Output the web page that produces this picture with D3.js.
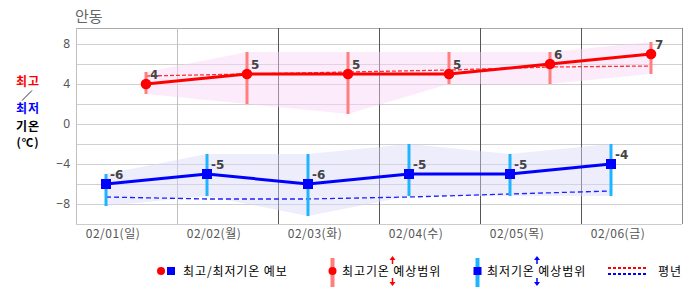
<!DOCTYPE html>
<html><head><meta charset="utf-8">
<script src="https://cdn.jsdelivr.net/npm/d3@7"></script>
<style>
body{margin:0;background:#fff;}
svg{display:block;font-family:"Noto Sans CJK KR","Noto Sans",sans-serif;}
</style></head>
<body><svg id="c" width="686" height="295"></svg>
<script>
const title = "안동";
const dates = ["02/01(일)","02/02(월)","02/03(화)","02/04(수)","02/05(목)","02/06(금)"];
const maxTemp = [4,5,5,5,6,7];
const minTemp = [-6,-5,-6,-5,-5,-4];
const maxRangeHigh = [5.2,7.2,7.2,7.2,7.2,8.2];
const maxRangeLow = [3,2,1,4,4,5];
const minRangeHigh = [-5,-3,-3,-2,-3,-2];
const minRangeLow = [-8.2,-7.2,-9.2,-7.2,-7.2,-7.2];
const normalMax = [4.8,5.0,5.2,5.4,5.7,5.8];
const normalMin = [-7.3,-7.5,-7.5,-7.3,-7.0,-6.7];
const yTicks = [8,4,0,-4,-8];
const yGrid = [8,6,4,2,0,-2,-4,-6,-8];

const svg = d3.select("#c");
const L=76, R=682, T=28, B=224;
const x = d3.scaleBand().domain(dates).range([L,R]).padding(0);
const y = d3.scaleLinear().domain([-10,9.6]).range([B,T]);
const xMax = d => x(d)+70, xMin = d => x(d)+30, xLab = d => x(d)+37;

// title
svg.append("text").attr("x",75).attr("y",22).attr("font-size",15).attr("fill","#666").text(title);

// grid
svg.selectAll(".hg").data(yGrid).join("line").attr("x1",L).attr("x2",R)
  .attr("y1",d=>y(d)+0.5).attr("y2",d=>y(d)+0.5).attr("stroke","#d0d0d0");
svg.append("line").attr("x1",L).attr("x2",R).attr("y1",T+0.5).attr("y2",T+0.5).attr("stroke","#aaa");
svg.append("line").attr("x1",L).attr("x2",R).attr("y1",B+0.5).attr("y2",B+0.5).attr("stroke","#ccc");
dates.forEach((d,i)=>{
  const xx = Math.round(x(d))+0.5;
  svg.append("line").attr("x1",xx).attr("x2",xx).attr("y1",T).attr("y2",B)
    .attr("stroke", i<2 ? "#c0c0c0" : "#555");
});
svg.append("line").attr("x1",R+0.5).attr("x2",R+0.5).attr("y1",T).attr("y2",B).attr("stroke","#888");

// y axis
const ya = svg.append("g").attr("transform",`translate(${L-6},0)`)
  .call(d3.axisLeft(y).tickValues(yTicks).tickSize(0).tickPadding(0));
ya.select(".domain").remove();
ya.selectAll("text").attr("font-size",12).attr("fill","#555").attr("font-family","'Noto Sans','DejaVu Sans',sans-serif");

// x labels
svg.selectAll(".xl").data(dates).join("text").attr("x",xLab).attr("y",238)
  .attr("text-anchor","middle").attr("font-size",12).attr("fill","#555").attr("letter-spacing","0.5").text(d=>d);

// left label
const ll = svg.append("g").attr("font-size",12).attr("font-weight","bold").attr("text-anchor","middle").attr("letter-spacing","1");
ll.append("text").attr("x",28).attr("y",86).attr("fill","#ff0000").text("최고");
ll.append("line").attr("x1",22).attr("y1",100.5).attr("x2",32).attr("y2",90.5).attr("stroke","#000").attr("stroke-width",0.8);
ll.append("text").attr("x",28).attr("y",113).attr("fill","#0000ff").text("최저");
ll.append("text").attr("x",28).attr("y",131).attr("fill","#000").text("기온");
ll.append("text").attr("x",28).attr("y",147).attr("fill","#000").attr("font-size",11.5).text("(℃)");

const idx = d3.range(dates.length);
// shaded areas
svg.append("path").datum(idx).attr("fill","#f8d4f6").attr("fill-opacity",0.45)
  .attr("d", d3.area().x(i=>xMax(dates[i])).y0(i=>y(maxRangeLow[i])).y1(i=>y(maxRangeHigh[i])));
svg.append("path").datum(idx).attr("fill","#d8d8f8").attr("fill-opacity",0.45)
  .attr("d", d3.area().x(i=>xMin(dates[i])).y0(i=>y(minRangeLow[i])).y1(i=>y(minRangeHigh[i])));

// normals
svg.append("path").datum(idx).attr("fill","none").attr("stroke","#ff3030").attr("stroke-width",1.3).attr("stroke-dasharray","4,2")
  .attr("d", d3.line().x(i=>xMax(dates[i])).y(i=>y(normalMax[i])));
svg.append("path").datum(idx).attr("fill","none").attr("stroke","#2020ff").attr("stroke-width",1.3).attr("stroke-dasharray","5,3")
  .attr("d", d3.line().x(i=>xMin(dates[i])).y(i=>y(normalMin[i])));

// range bars
svg.selectAll(".rb").data(idx).join("line").attr("x1",i=>xMax(dates[i])).attr("x2",i=>xMax(dates[i]))
  .attr("y1",i=>y(maxRangeHigh[i])).attr("y2",i=>y(maxRangeLow[i])).attr("stroke","#ff7f7f").attr("stroke-width",3);
svg.selectAll(".rb2").data(idx).join("line").attr("x1",i=>xMin(dates[i])).attr("x2",i=>xMin(dates[i]))
  .attr("y1",i=>y(minRangeHigh[i])).attr("y2",i=>y(minRangeLow[i])).attr("stroke","#1eb4ff").attr("stroke-width",3);

// main lines
svg.append("path").datum(idx).attr("fill","none").attr("stroke","#ff0000").attr("stroke-width",3)
  .attr("d", d3.line().x(i=>xMax(dates[i])).y(i=>y(maxTemp[i])));
svg.append("path").datum(idx).attr("fill","none").attr("stroke","#0000ff").attr("stroke-width",3)
  .attr("d", d3.line().x(i=>xMin(dates[i])).y(i=>y(minTemp[i])));

// markers
svg.selectAll(".mc").data(idx).join("circle").attr("cx",i=>xMax(dates[i])).attr("cy",i=>y(maxTemp[i])).attr("r",5.3).attr("fill","#ff0000");
svg.selectAll(".ms").data(idx).join("rect").attr("x",i=>xMin(dates[i])-5).attr("y",i=>y(minTemp[i])-5).attr("width",10).attr("height",10).attr("fill","#0000ff");

// data labels
const lblFont = "'DejaVu Sans','Noto Sans',sans-serif";
svg.selectAll(".dl").data(idx).join("text").attr("x",i=>xMax(dates[i])+4).attr("y",i=>y(maxTemp[i])-5)
  .attr("font-size",12).attr("font-weight","bold").attr("fill","#444").attr("font-family",lblFont).text(i=>maxTemp[i]);
svg.selectAll(".dl2").data(idx).join("text").attr("x",i=>xMin(dates[i])+4).attr("y",i=>y(minTemp[i])-5)
  .attr("font-size",12).attr("font-weight","bold").attr("fill","#444").attr("font-family",lblFont).text(i=>"-"+Math.abs(minTemp[i]));

// legend
const lg = svg.append("g").attr("font-size",12).attr("fill","#000").attr("letter-spacing","0.9");
const ly = 271;
lg.append("circle").attr("cx",161).attr("cy",ly).attr("r",4).attr("fill","#ff0000");
lg.append("rect").attr("x",167).attr("y",ly-4).attr("width",8).attr("height",8).attr("fill","#0000ff");
lg.append("text").attr("x",183).attr("y",ly+4.5).text("최고/최저기온 예보");

lg.append("line").attr("x1",332.5).attr("x2",332.5).attr("y1",258).attr("y2",287).attr("stroke","#ff7f7f").attr("stroke-width",4);
lg.append("circle").attr("cx",332.5).attr("cy",ly).attr("r",4).attr("fill","#ff0000");
lg.append("text").attr("x",342).attr("y",ly+4.5).text("최고기온 예상범위");
function arrow(xx,col){
  lg.append("line").attr("x1",xx).attr("x2",xx).attr("y1",258).attr("y2",264).attr("stroke",col).attr("stroke-width",1.5);
  lg.append("path").attr("d",`M${xx-3},${260}L${xx},${256}L${xx+3},${260}Z`).attr("fill",col);
  lg.append("line").attr("x1",xx).attr("x2",xx).attr("y1",278).attr("y2",284).attr("stroke",col).attr("stroke-width",1.5);
  lg.append("path").attr("d",`M${xx-3},${282}L${xx},${286}L${xx+3},${282}Z`).attr("fill",col);
}
arrow(392.5,"#ff0000");

lg.append("line").attr("x1",477.5).attr("x2",477.5).attr("y1",258).attr("y2",287).attr("stroke","#1eb4ff").attr("stroke-width",4);
lg.append("rect").attr("x",473.5).attr("y",ly-4).attr("width",8).attr("height",8).attr("fill","#0000ff");
lg.append("text").attr("x",487).attr("y",ly+4.5).text("최저기온 예상범위");
arrow(537,"#0000ff");

lg.append("line").attr("x1",608).attr("x2",648).attr("y1",268).attr("y2",268).attr("stroke","#ff0000").attr("stroke-width",2).attr("stroke-dasharray","3,2");
lg.append("line").attr("x1",608).attr("x2",648).attr("y1",274).attr("y2",274).attr("stroke","#0000ff").attr("stroke-width",2).attr("stroke-dasharray","3,2");
lg.append("text").attr("x",658).attr("y",ly+4.5).text("평년");
</script></body></html>
